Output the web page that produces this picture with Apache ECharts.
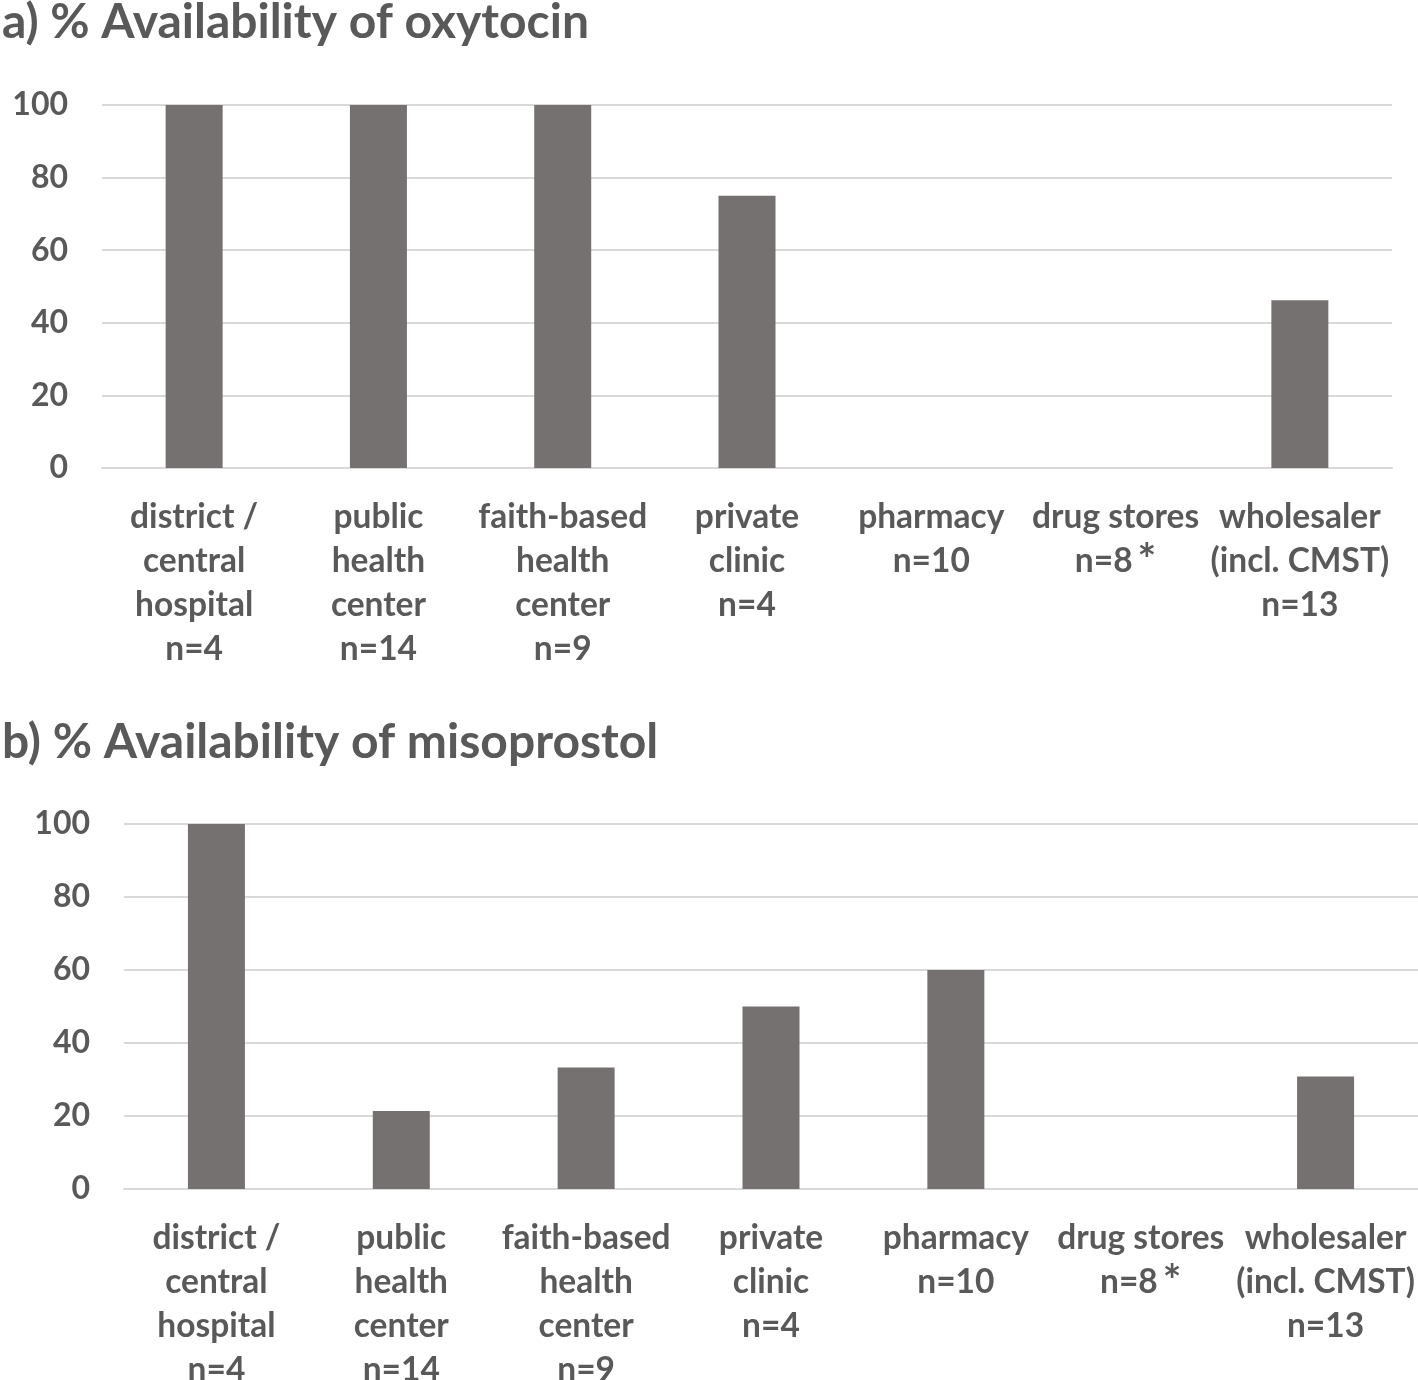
<!DOCTYPE html>
<html><head><meta charset="utf-8">
<script src="https://cdn.jsdelivr.net/npm/echarts@6/dist/echarts.min.js"></script>
<style>html,body{margin:0;padding:0;background:#fff}#c{width:1418px;height:1380px}</style>
</head><body><div id="c"></div>
<script>
const categories = [
  "district /\ncentral\nhospital\nn=4",
  "public\nhealth\ncenter\nn=14",
  "faith-based\nhealth\ncenter\nn=9",
  "private\nclinic\nn=4",
  "pharmacy\nn=10",
  "drug stores\nn=8{s|*}",
  "wholesaler\n(incl. CMST)\nn=13"
];
const oxytocin = [100, 100, 100, 75, 0, 0, 46.2];
const misoprostol = [100, 21.4, 33.3, 50, 60, 0, 30.8];
const yTicks = [0, 20, 40, 60, 80, 100];
const titles = ["a) % Availability of oxytocin", "b) % Availability of misoprostol"];

const FONT = "Lato";
const TXT = "#595959";
const BAR = "#767171";
const GRID = "#d9d9d9";

function xAxis(i){
  return {
    type: "category", gridIndex: i, data: categories,
    axisLine: {show: true, lineStyle: {color: GRID, width: 2}},
    axisTick: {show: false},
    axisLabel: {
      interval: 0, margin: 27, color: TXT, fontFamily: FONT, fontWeight: "bold",
      fontSize: 33.5, lineHeight: 44,
      rich: {s: {fontSize: 44, fontWeight: "bold", color: TXT, fontFamily: FONT, verticalAlign: "top", lineHeight: 44, padding: [0,0,0,5]}}
    }
  };
}
function yAxis(i){
  return {
    type: "value", gridIndex: i, min: 0, max: 100, interval: 20,
    axisLine: {show: false}, axisTick: {show: false},
    axisLabel: {margin: 34, color: TXT, fontFamily: FONT, fontWeight: "bold", fontSize: 32,
      formatter: v => yTicks.includes(v) ? String(v) : ""},
    splitLine: {lineStyle: {color: GRID, width: 2}}
  };
}
const chart = echarts.init(document.getElementById("c"), null, {renderer: "canvas"});
chart.setOption({
  animation: false,
  backgroundColor: "#fff",
  title: [
    {text: titles[0], left: -3, top: -6, textStyle: {fontFamily: FONT, fontWeight: "bold", fontSize: 48, color: TXT}},
    {text: titles[1], left: -3, top: 714, textStyle: {fontFamily: FONT, fontWeight: "bold", fontSize: 48, color: TXT}}
  ],
  grid: [
    {left: 102, width: 1290, top: 105, height: 363, outerBoundsMode: "none", containLabel: false},
    {left: 124, width: 1294, top: 824, height: 365, outerBoundsMode: "none", containLabel: false}
  ],
  xAxis: [xAxis(0), xAxis(1)],
  yAxis: [yAxis(0), yAxis(1)],
  series: [
    {type: "bar", xAxisIndex: 0, yAxisIndex: 0, data: oxytocin, barWidth: 57, itemStyle: {color: BAR}},
    {type: "bar", xAxisIndex: 1, yAxisIndex: 1, data: misoprostol, barWidth: 57, itemStyle: {color: BAR}}
  ]
});
</script></body></html>
